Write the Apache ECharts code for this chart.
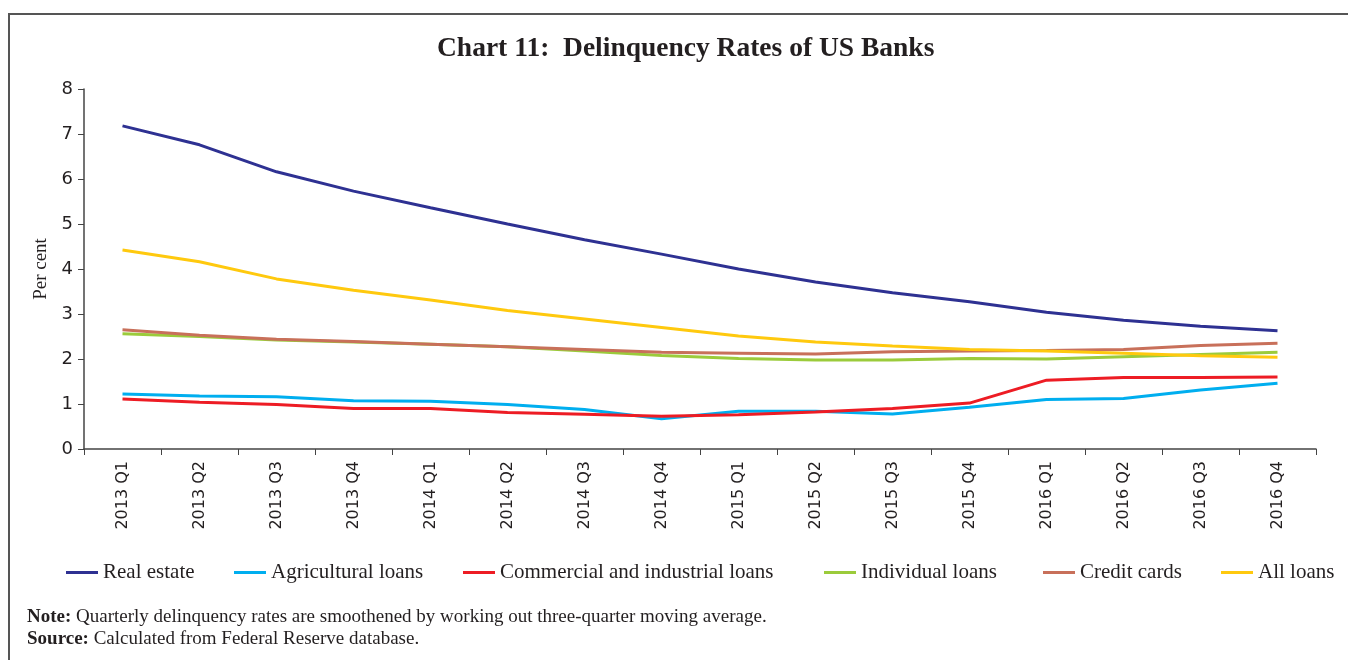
<!DOCTYPE html>
<html>
<head>
<meta charset="utf-8">
<script src="https://cdn.jsdelivr.net/npm/echarts@6/dist/echarts.min.js"></script>
<style>
html,body{margin:0;padding:0;background:#fff;overflow:hidden;}
#frame{position:absolute;left:8px;top:13px;width:1400px;height:700px;border-top:2px solid #555;border-left:2px solid #555;}
#chart{position:absolute;left:0;top:0;width:1348px;height:660px;}
</style>
</head>
<body>
<div id="frame"></div>
<div id="chart"></div>
<script>
var categories = ['2013 Q1','2013 Q2','2013 Q3','2013 Q4','2014 Q1','2014 Q2','2014 Q3','2014 Q4','2015 Q1','2015 Q2','2015 Q3','2015 Q4','2016 Q1','2016 Q2','2016 Q3','2016 Q4'];
var realEstate   = [7.18, 6.76, 6.16, 5.73, 5.36, 5.00, 4.65, 4.33, 4.00, 3.71, 3.47, 3.27, 3.04, 2.86, 2.73, 2.63];
var agricultural = [1.22, 1.18, 1.16, 1.07, 1.06, 0.99, 0.88, 0.67, 0.84, 0.84, 0.78, 0.93, 1.10, 1.12, 1.31, 1.46];
var commercial   = [1.11, 1.04, 0.99, 0.90, 0.90, 0.81, 0.77, 0.73, 0.76, 0.82, 0.90, 1.02, 1.53, 1.59, 1.59, 1.60];
var individual   = [2.56, 2.50, 2.42, 2.38, 2.33, 2.27, 2.18, 2.08, 2.01, 1.98, 1.98, 2.01, 2.00, 2.05, 2.10, 2.15];
var creditCards  = [2.65, 2.53, 2.44, 2.39, 2.33, 2.27, 2.21, 2.15, 2.13, 2.11, 2.16, 2.18, 2.19, 2.21, 2.30, 2.35];
var allLoans     = [4.42, 4.16, 3.78, 3.53, 3.31, 3.08, 2.89, 2.70, 2.51, 2.38, 2.29, 2.21, 2.18, 2.13, 2.07, 2.04];
var yTicks = [0, 1, 2, 3, 4, 5, 6, 7, 8];

var names = ['Real estate','Agricultural loans','Commercial and industrial loans','Individual loans','Credit cards','All loans'];
var dataSets = [realEstate, agricultural, commercial, individual, creditCards, allLoans];
var colors = ['#2e3192','#00aeef','#ed1c24','#9bcb3b','#c8705a','#ffc90e'];
var legendLeft = [61, 229, 458, 819, 1038, 1216];

var serif = '"Liberation Serif", "DejaVu Serif", serif';
var sans = '"DejaVu Sans", sans-serif';

var chart = echarts.init(document.getElementById('chart'));
var option = {
  animation: false,
  color: colors,
  title: {
    text: 'Chart 11:  Delinquency Rates of US Banks',
    left: 432,
    top: 30,
    textStyle: {fontFamily: serif, fontWeight: 'bold', fontSize: 27.5, color: '#231f20'}
  },
  legend: names.map(function(n, i){
    return {
      data: [n], left: legendLeft[i], top: 557,
      itemWidth: 32, itemHeight: 3, icon: 'rect', itemGap: 10,
      textStyle: {fontFamily: serif, fontSize: 21, color: '#231f20'}
    };
  }),
  grid: {left: 84, right: 32, top: 89, bottom: 211, containLabel: false},
  xAxis: {
    type: 'category',
    data: categories,
    boundaryGap: true,
    axisLine: {lineStyle: {color: '#444', width: 1.5}},
    axisTick: {show: true, alignWithLabel: false, length: 6, lineStyle: {color: '#444'}},
    axisLabel: {rotate: 90, fontFamily: sans, fontSize: 16, color: '#231f20', margin: 12}
  },
  yAxis: {
    type: 'value',
    min: yTicks[0], max: yTicks[yTicks.length-1], interval: 1,
    name: 'Per cent',
    nameLocation: 'middle',
    nameGap: 32,
    nameTextStyle: {fontFamily: serif, fontSize: 19, color: '#231f20'},
    axisLine: {show: true, lineStyle: {color: '#444', width: 1.5}},
    axisTick: {show: true, length: 6, lineStyle: {color: '#444'}},
    splitLine: {show: false},
    axisLabel: {fontFamily: sans, fontSize: 18, color: '#231f20', margin: 11}
  },
  series: names.map(function(n, i){
    return {
      name: n, type: 'line', data: dataSets[i],
      symbol: 'none', smooth: false,
      lineStyle: {width: 3, color: colors[i]},
      itemStyle: {color: colors[i]}
    };
  }),
  graphic: [
    {type: 'text', left: 27, top: 608, style: {
      text: '{b|Note:} Quarterly delinquency rates are smoothened by working out three-quarter moving average.',
      rich: {b: {fontFamily: serif, fontWeight: 'bold', fontSize: 19, fill: '#231f20'}},
      font: '19px ' + serif, fill: '#231f20'
    }},
    {type: 'text', left: 27, top: 630, style: {
      text: '{b|Source:} Calculated from Federal Reserve database.',
      rich: {b: {fontFamily: serif, fontWeight: 'bold', fontSize: 19, fill: '#231f20'}},
      font: '19px ' + serif, fill: '#231f20'
    }}
  ]
};
chart.setOption(option);
</script>
</body>
</html>
